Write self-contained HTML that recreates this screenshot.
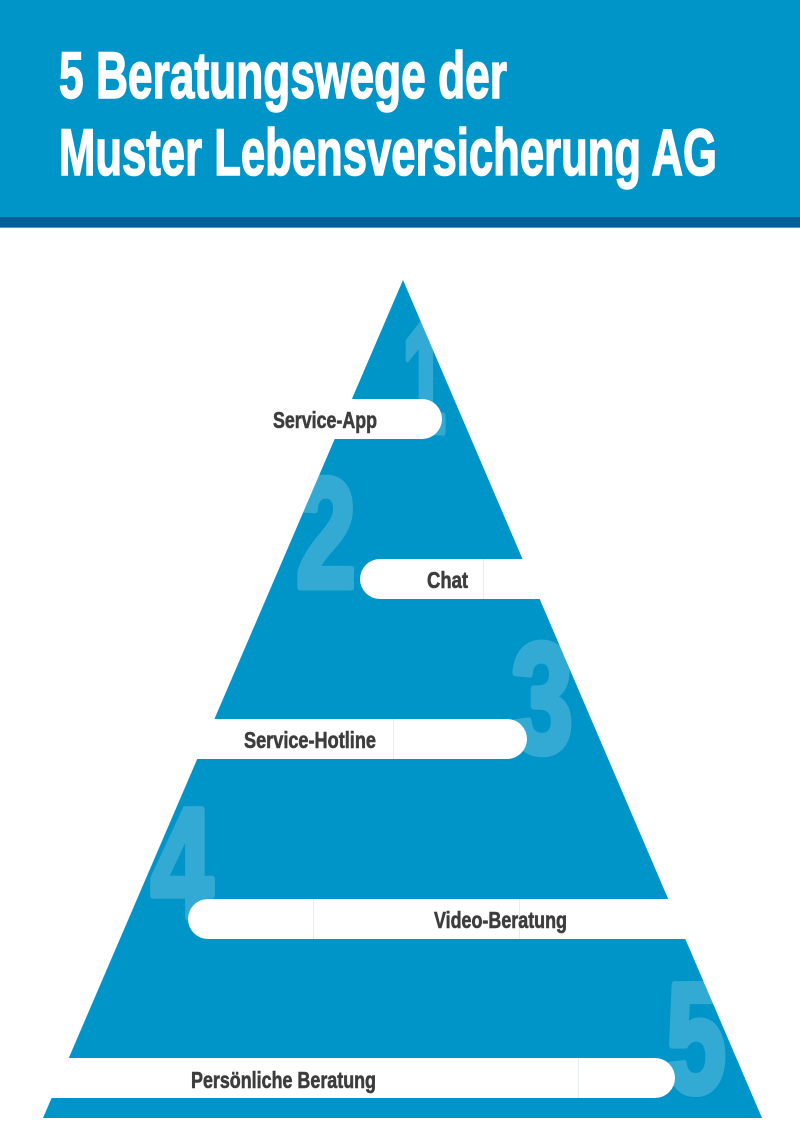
<!DOCTYPE html>
<html><head><meta charset="utf-8"><style>
html,body{margin:0;padding:0;background:#fff;width:800px;height:1130px;overflow:hidden}
svg{display:block}
</style></head><body>
<svg width="800" height="1130" viewBox="0 0 800 1130" xmlns="http://www.w3.org/2000/svg" font-family="'Liberation Sans', sans-serif" font-weight="bold">
<rect x="0" y="0" width="800" height="217" fill="#0095c9"/>
<rect x="0" y="217" width="800" height="10" fill="#005f98"/>
<rect x="0" y="227" width="800" height="1" fill="#5a9ac0"/>
<g fill="#fff" stroke="#fff" stroke-width="1.6">
<text x="59" y="98" font-size="66" textLength="448" lengthAdjust="spacingAndGlyphs">5 Beratungswege der</text>
<text x="59" y="175" font-size="66" textLength="658" lengthAdjust="spacingAndGlyphs">Muster Lebensversicherung AG</text>
</g>
<defs><clipPath id="tri"><polygon points="403,280 762,1118 43,1118"/></clipPath></defs>
<polygon points="403,280 762,1118 43,1118" fill="#0095c9"/>
<g clip-path="url(#tri)">
<g opacity="0.2" fill="#ffffff" stroke="#ffffff" stroke-width="7" stroke-linejoin="round" font-size="156">
<text x="402" y="432" textLength="44" lengthAdjust="spacingAndGlyphs">1</text>
<text x="296" y="587" textLength="60" lengthAdjust="spacingAndGlyphs">2</text>
<text x="511" y="752" textLength="62" lengthAdjust="spacingAndGlyphs">3</text>
<text x="151" y="917" textLength="62" lengthAdjust="spacingAndGlyphs">4</text>
<text x="666" y="1092" textLength="60" lengthAdjust="spacingAndGlyphs">5</text>
</g>
</g>
<g fill="#fff">
<path d="M0,399 H422 A20,20 0 0 1 422,439 H0 Z"/>
<path d="M800,559 H380 A20,20 0 0 0 380,599 H800 Z"/>
<path d="M0,719 H507 A20,20 0 0 1 507,759 H0 Z"/>
<path d="M800,899 H208 A20,20 0 0 0 208,939 H800 Z"/>
<path d="M0,1058 H655 A20,20 0 0 1 655,1098 H0 Z"/>
</g>
<g stroke="#e3edf3" stroke-width="1">
<line x1="483.5" y1="559" x2="483.5" y2="599"/>
<line x1="393.5" y1="719" x2="393.5" y2="759"/>
<line x1="313.5" y1="899" x2="313.5" y2="939"/>
<line x1="519.5" y1="899" x2="519.5" y2="939"/>
<line x1="578.5" y1="1058" x2="578.5" y2="1098"/>
</g>
<g fill="#3d3d3d" stroke="#3d3d3d" stroke-width="0.6" font-size="23">
<text x="273" y="428" textLength="104" lengthAdjust="spacingAndGlyphs">Service-App</text>
<text x="427" y="588" textLength="41" lengthAdjust="spacingAndGlyphs">Chat</text>
<text x="244" y="748" textLength="132" lengthAdjust="spacingAndGlyphs">Service-Hotline</text>
<text x="434" y="928" textLength="133" lengthAdjust="spacingAndGlyphs">Video-Beratung</text>
<text x="191" y="1088" textLength="185" lengthAdjust="spacingAndGlyphs">Persönliche Beratung</text>
</g>
</svg>
</body></html>
